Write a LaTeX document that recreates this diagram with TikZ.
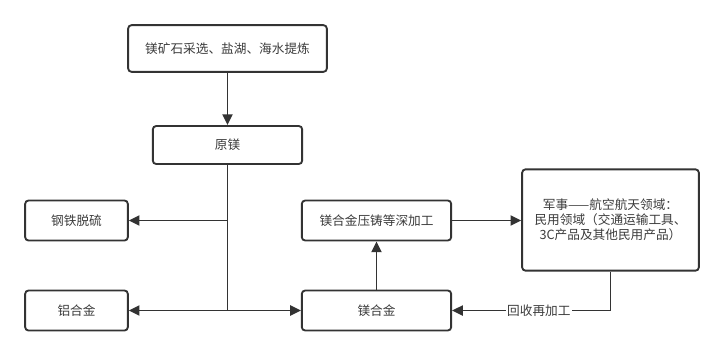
\documentclass[tikz,border=0pt]{standalone}
\usepackage{fontspec}
\setmainfont{Noto Sans CJK SC}
\usepackage{tikz}
\usetikzlibrary{arrows.meta}
\usepackage{xcolor}
\definecolor{flowgray}{RGB}{51,51,51}
\definecolor{flowtext}{RGB}{60,60,60}

\begin{document}
\begin{tikzpicture}[x=0.75pt,y=-0.75pt,>={Triangle[length=8pt,width=7.5pt]},
    procbox/.style={draw=flowgray,line width=1.4pt,rounded corners=2.5pt,fill=white,
        text=flowtext,font=\fontsize{9.5}{11.3}\selectfont,align=center,inner sep=0pt},
    flow/.style={->,draw=flowgray,line width=1.4pt}]
    % Canvas
    \useasboundingbox (0,0) rectangle (724,355);

    % Source and raw magnesium
    \node[procbox,minimum width=149pt,minimum height=35pt] (ore) at (227.5,48.5) {镁矿石采选、盐湖、海水提炼};
    \node[procbox,minimum width=112pt,minimum height=28.5pt] (raw) at (227.5,145) {原镁};

    % Uses of raw magnesium
    \node[procbox,minimum width=77pt,minimum height=30pt] (desulf) at (76.5,220.5) {钢铁脱硫};
    \node[procbox,minimum width=77pt,minimum height=30pt] (alal) at (76.5,310.5) {铝合金};
    \node[procbox,minimum width=112pt,minimum height=30pt] (mgal) at (376.5,310.5) {镁合金};
    \node[procbox,minimum width=112pt,minimum height=30pt] (cast) at (376.5,220.5) {镁合金压铸等深加工};

    % Application fields
    \node[procbox,minimum width=132.5pt,minimum height=76pt] (field) at (610.5,220)
        {军事——航空航天领域：\\民用领域（交通运输工具、\\3C产品及其他民用产品）};

    % Branch points on the trunk
    \coordinate (forkA) at (raw.south |- desulf.east);
    \coordinate (forkB) at (raw.south |- alal.east);

    % Connectors
    \draw[flow] (ore) -- (raw);
    \draw[draw=flowgray,line width=1.4pt] (raw.south) -- (forkB);
    \draw[flow] (forkA) -- (desulf);
    \draw[flow] (forkB) -- (alal);
    \draw[flow] (forkB) -- (mgal);
    \draw[flow] (mgal) -- (cast);
    \draw[flow] (cast) -- (field.west |- cast);

    % Recycling loop
    \draw[flow] (field.south) |- node[pos=0.726,fill=white,text=flowtext,inner sep=1pt,
        font=\fontsize{9.5}{11.3}\selectfont] (recycle) {回收再加工} (mgal.east);
\end{tikzpicture}
\end{document}
